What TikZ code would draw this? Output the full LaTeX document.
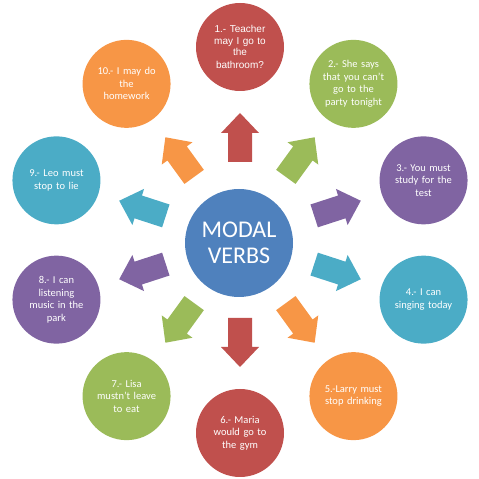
\documentclass[tikz,border=0pt]{standalone}
\usepackage{fontspec}
\usetikzlibrary{calc}
\setmainfont{Carlito}
\newfontfamily\arialfont{Liberation Sans}
\definecolor{cred}{HTML}{C0504D}
\definecolor{cgreen}{HTML}{9BBB59}
\definecolor{cpurple}{HTML}{8064A2}
\definecolor{caqua}{HTML}{4BACC6}
\definecolor{corange}{HTML}{F79646}
\definecolor{cblue}{HTML}{4F81BD}
\begin{document}
\begin{tikzpicture}[x=1pt,y=1pt,
  hub/.style={circle, fill=cblue, minimum size=108pt, inner sep=0pt, text=white,
    align=center, font=\fontsize{24}{26}\selectfont},
  leaf/.style={circle, minimum size=88pt, inner sep=0pt, text=white, align=center,
    text width=68pt, font=\fontsize{10.5}{12.5}\selectfont}]
\useasboundingbox (0,0) rectangle (479,479);
\coordinate (O) at (240,239);
\node[hub] (hubnode) at (239,236) {MODAL\\VERBS};
\foreach \i/\ang/\col/\txt in {
  1/90/cred/{\arialfont\fontsize{10}{11.5}\selectfont 1.- Teacher\\may I go to\\the\\bathroom?},
  2/54/cgreen/{2.- She says\\that you can't\\go to the\\party tonight},
  3/18/cpurple/{3.- You must\\study for the\\test},
  4/-18/caqua/{4.- I can\\singing today},
  5/-54/corange/{5.-Larry must\\stop drinking},
  6/-90/cred/{6.- Maria\\would go to\\the gym},
  7/-126/cgreen/{7.- Lisa\\mustn't leave\\to eat},
  8/-162/cpurple/{8.- I can\\listening\\music in the\\park},
  9/162/caqua/{9.- Leo must\\stop to lie},
  10/126/corange/{10.- I may do\\the\\homework}} {
  \node[leaf, fill=\col] (c\i) at ($(O)+(\ang:193)$) {\txt};
  \begin{scope}[shift={(O)}, rotate=\ang]
    \fill[\col] (78,-12) -- (107,-12) -- (107,-19) -- (127,0) -- (107,19) -- (107,12) -- (78,12) -- cycle;
  \end{scope}
}
\end{tikzpicture}
\end{document}
